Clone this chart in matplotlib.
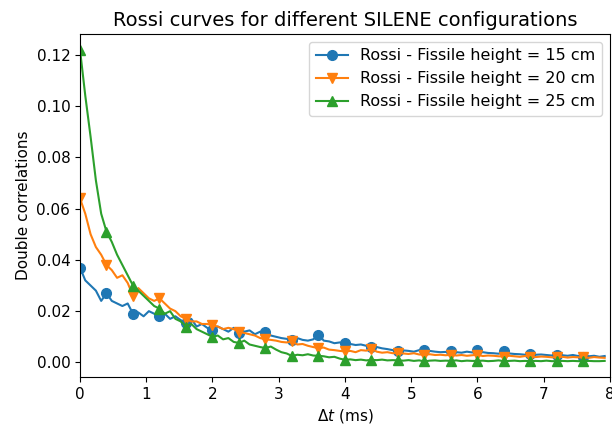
import numpy as np
import matplotlib
matplotlib.use("Agg")
import matplotlib.pyplot as plt

# time step of the Rossi histograms (ms)
dt = 0.08

rossi_15 = [
    0.037, 0.032, 0.030, 0.028, 0.024, 0.027, 0.024, 0.023, 0.022, 0.023,
    0.019, 0.0195, 0.018, 0.020, 0.019, 0.018, 0.019, 0.017, 0.018, 0.0165,
    0.0155, 0.017, 0.014, 0.015, 0.0135, 0.0125, 0.014, 0.013, 0.012, 0.0135,
    0.0115, 0.012, 0.0125, 0.011, 0.012, 0.0117, 0.0105, 0.010, 0.0095, 0.0092,
    0.0089, 0.0095, 0.0088, 0.0085, 0.009, 0.0108, 0.0085, 0.0082, 0.0075, 0.0078,
    0.0076, 0.0072, 0.0068, 0.007, 0.0065, 0.0062, 0.006, 0.0055, 0.0052, 0.0048,
    0.0043, 0.0047, 0.0045, 0.0042, 0.0048, 0.005, 0.0045, 0.0042, 0.004, 0.0041,
    0.0043, 0.004, 0.0038, 0.0042, 0.0039, 0.0047, 0.004, 0.0037, 0.0036, 0.0034,
    0.0043, 0.0035, 0.0033, 0.0032, 0.003, 0.0034, 0.003, 0.0031, 0.0029, 0.0027,
    0.003, 0.0028, 0.0026, 0.0029, 0.0025, 0.0023, 0.0024, 0.0026, 0.0022, 0.0025,
]

rossi_20 = [
    0.064, 0.058, 0.050, 0.045, 0.042, 0.038, 0.036, 0.033, 0.034, 0.031,
    0.026, 0.029, 0.027, 0.025, 0.024, 0.025, 0.023, 0.021, 0.020, 0.018,
    0.017, 0.016, 0.016, 0.015, 0.015, 0.0145, 0.014, 0.013, 0.0135, 0.013,
    0.012, 0.0115, 0.011, 0.0105, 0.0095, 0.009, 0.0088, 0.0085, 0.008, 0.0078,
    0.0082, 0.007, 0.0072, 0.0065, 0.006, 0.0056, 0.0058, 0.005, 0.0048, 0.0045,
    0.0043, 0.0045, 0.004, 0.0048, 0.0046, 0.0052, 0.0042, 0.0038, 0.004, 0.0036,
    0.0037, 0.0035, 0.0033, 0.0036, 0.0031, 0.003, 0.0032, 0.0029, 0.003, 0.0028,
    0.003, 0.0027, 0.0029, 0.0026, 0.0028, 0.003, 0.0025, 0.0027, 0.0026, 0.0024,
    0.0023, 0.0026, 0.0024, 0.0022, 0.0025, 0.0023, 0.0021, 0.0023, 0.0022, 0.002,
    0.002, 0.0022, 0.0019, 0.0021, 0.002, 0.002, 0.0018, 0.0021, 0.0019, 0.0018,
]

rossi_25 = [
    0.122, 0.104, 0.088, 0.071, 0.058, 0.051, 0.047, 0.042, 0.038, 0.034,
    0.030, 0.028, 0.026, 0.024, 0.022, 0.021, 0.019, 0.020, 0.017, 0.016,
    0.014, 0.015, 0.013, 0.012, 0.011, 0.010, 0.0105, 0.009, 0.0095, 0.008,
    0.0076, 0.0085, 0.007, 0.0065, 0.006, 0.0056, 0.0062, 0.005, 0.004, 0.0035,
    0.0025, 0.003, 0.0028, 0.0032, 0.0027, 0.0026, 0.0024, 0.002, 0.0022, 0.0015,
    0.001, 0.0012, 0.0009, 0.0011, 0.0008, 0.001, 0.0009, 0.0011, 0.0008, 0.0009,
    0.0008, 0.0007, 0.0009, 0.0006, 0.0008, 0.0004, 0.0007, 0.0008, 0.0006, 0.0007,
    0.0006, 0.0008, 0.0005, 0.0007, 0.0006, 0.0006, 0.0007, 0.0005, 0.0006, 0.0008,
    0.0005, 0.0006, 0.0007, 0.0005, 0.0006, 0.0005, 0.0006, 0.0005, 0.0007, 0.0005,
    0.0005, 0.0006, 0.0005, 0.0006, 0.0005, 0.0005, 0.0006, 0.0005, 0.0005, 0.0006,
]

heights = [15, 20, 25]
markers = ["o", "v", "^"]

t = np.arange(len(rossi_15)) * dt

fig = plt.figure(figsize=(6.12, 4.29), dpi=100)
ax = fig.add_axes([0.1307, 0.1212, 0.866, 0.7995])

for h, m, y in zip(heights, markers, [rossi_15, rossi_20, rossi_25]):
    ax.plot(t, y, marker=m, markevery=5, markersize=7,
            label=f"Rossi - Fissile height = {h} cm")

ax.set_xlim(0, 8)
ax.tick_params(labelsize=11)
ax.set_xlabel(r"$\Delta t$ (ms)", fontsize=11)
ax.set_ylabel("Double correlations", fontsize=11)
ax.set_title("Rossi curves for different SILENE configurations", fontsize=14)
ax.legend(loc="upper right", fontsize=11.5)

fig.savefig("out.png", dpi=100)
